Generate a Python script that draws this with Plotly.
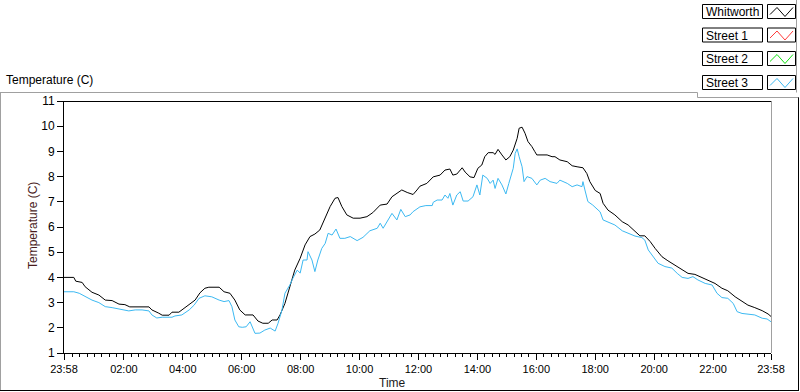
import plotly.graph_objects as go

# ---------------- data ----------------
# minutes elapsed since 23:58 (start of record) and temperature in deg C
whitworth_min = [0, 20, 24, 37, 43, 57, 71, 84, 98, 112, 124, 134, 173, 179, 193, 200, 214, 220, 234, 240,
                 255, 267, 277, 287, 295, 316, 326, 338, 348, 358, 369, 385, 395, 405, 416, 424, 434, 440,
                 450, 460, 470, 481, 491, 501, 511, 521, 532, 542, 552, 558, 566, 576, 589, 603, 617, 629,
                 644, 658, 668, 678, 688, 699, 711, 719, 725, 739, 752, 766, 776, 786, 792, 800, 811, 817,
                 827, 835, 843, 851, 857, 864, 874, 878, 884, 892, 900, 908, 915, 923, 927, 933, 939, 945,
                 953, 959, 963, 984, 994, 1000, 1010, 1025, 1035, 1045, 1057, 1065, 1071, 1082, 1092, 1098,
                 1108, 1122, 1137, 1149, 1163, 1173, 1183, 1194, 1204, 1218, 1230, 1244, 1259, 1271, 1285,
                 1299, 1312, 1326, 1340, 1352, 1367, 1381, 1393, 1407, 1422, 1434, 1440]
whitworth_temp = [4.00, 4.00, 3.85, 3.80, 3.63, 3.41, 3.30, 3.10, 3.08, 2.94, 2.92, 2.83, 2.83, 2.71, 2.58,
                  2.50, 2.50, 2.62, 2.62, 2.71, 2.90, 3.10, 3.39, 3.57, 3.61, 3.61, 3.43, 3.37, 3.10, 2.71,
                  2.51, 2.51, 2.27, 2.18, 2.18, 2.31, 2.31, 2.51, 2.97, 3.63, 4.29, 4.76, 5.29, 5.62, 5.72,
                  5.88, 6.35, 6.81, 7.14, 7.17, 6.81, 6.48, 6.35, 6.35, 6.41, 6.57, 6.87, 6.91, 7.20, 7.33,
                  7.47, 7.37, 7.29, 7.47, 7.62, 7.73, 7.99, 8.06, 8.26, 8.30, 8.06, 8.10, 8.35, 8.18, 7.99,
                  7.96, 8.33, 8.46, 8.79, 8.95, 8.95, 8.88, 9.08, 8.86, 8.66, 8.79, 9.05, 9.52, 9.92, 9.96,
                  9.72, 9.39, 9.19, 8.99, 8.86, 8.86, 8.79, 8.79, 8.66, 8.59, 8.43, 8.39, 8.35, 8.12, 7.80,
                  7.45, 7.33, 6.94, 6.67, 6.48, 6.21, 6.08, 5.81, 5.65, 5.65, 5.42, 5.15, 4.82, 4.66, 4.49,
                  4.32, 4.16, 4.12, 4.00, 3.90, 3.76, 3.57, 3.47, 3.23, 3.04, 2.90, 2.80, 2.68, 2.55, 2.45]

street3_min = [0, 20, 31, 43, 57, 71, 84, 98, 114, 132, 145, 159, 173, 179, 189, 200, 220, 226, 240, 255,
               265, 275, 287, 301, 316, 326, 336, 342, 348, 356, 363, 371, 379, 389, 399, 409, 420, 430,
               436, 444, 450, 460, 466, 475, 481, 487, 495, 497, 505, 511, 517, 525, 532, 538, 546, 554,
               562, 572, 583, 597, 609, 623, 638, 644, 650, 660, 668, 678, 686, 695, 705, 711, 719, 725,
               737, 750, 752, 760, 770, 776, 782, 786, 792, 800, 807, 813, 823, 833, 841, 847, 853, 862,
               868, 874, 878, 884, 892, 900, 906, 915, 919, 923, 927, 933, 937, 943, 953, 963, 970, 980,
               990, 1004, 1010, 1025, 1035, 1045, 1055, 1057, 1061, 1067, 1077, 1092, 1098, 1108, 1122,
               1137, 1149, 1163, 1177, 1183, 1190, 1200, 1210, 1224, 1238, 1249, 1259, 1271, 1281, 1291,
               1306, 1320, 1330, 1340, 1352, 1363, 1371, 1381, 1393, 1407, 1422, 1432, 1440]
street3_temp = [3.43, 3.43, 3.37, 3.23, 3.10, 3.00, 2.84, 2.80, 2.75, 2.67, 2.71, 2.71, 2.67, 2.51, 2.39,
                2.42, 2.42, 2.47, 2.51, 2.71, 2.90, 3.17, 3.27, 3.23, 3.10, 3.04, 3.08, 2.84, 2.31, 2.04,
                2.02, 2.04, 2.24, 1.78, 1.79, 1.91, 1.99, 1.87, 2.18, 2.71, 3.37, 3.70, 3.96, 4.29, 4.17,
                4.69, 4.69, 5.02, 4.69, 4.23, 4.69, 5.15, 5.35, 5.75, 5.68, 5.92, 5.55, 5.55, 5.62, 5.46,
                5.59, 5.85, 5.95, 6.15, 5.95, 6.25, 6.54, 6.28, 6.70, 6.41, 6.48, 6.61, 6.74, 6.80, 6.85,
                6.85, 6.98, 7.07, 7.07, 7.27, 7.14, 7.33, 6.87, 7.27, 7.40, 7.03, 7.03, 7.20, 7.67, 7.27,
                8.06, 7.93, 7.73, 7.86, 7.53, 7.93, 7.67, 7.31, 7.73, 8.33, 8.92, 9.10, 8.79, 8.39, 7.80,
                8.00, 7.93, 7.67, 7.86, 7.93, 7.80, 7.73, 7.86, 7.73, 7.60, 7.67, 7.60, 7.80, 7.47, 7.01,
                6.87, 6.60, 6.28, 6.19, 6.08, 5.85, 5.75, 5.64, 5.58, 5.48, 5.09, 4.82, 4.56, 4.43, 4.37,
                4.16, 4.00, 3.96, 4.03, 3.90, 3.76, 3.70, 3.37, 3.20, 3.17, 2.97, 2.64, 2.57, 2.55, 2.51,
                2.38, 2.35, 2.24]

series_names = ["Whitworth", "Street 1", "Street 2", "Street 3"]
series_colors = ["#000000", "#ff3c3c", "#10e010", "#3cb9f2"]

x_tick_labels = ["23:58", "02:00", "04:00", "06:00", "08:00", "10:00", "12:00",
                 "14:00", "16:00", "18:00", "20:00", "22:00", "23:58"]
y_tick_vals = [1, 2, 3, 4, 5, 6, 7, 8, 9, 10, 11]

# ---------------- geometry helpers ----------------
W, H = 800, 392
ML, MR, MT, MB = 64, 29, 101, 39
PW = W - ML - MR
PH = H - MT - MB


def px(x):
    return (x - ML) / PW


def py(y):
    return (H - MB - y) / PH


START = 23 * 60 + 58


def to_offset(lbl, last=False):
    h, m = lbl.split(":")
    off = (int(h) * 60 + int(m) - START) % 1440
    return 1440 if (last and off == 0) else off


x_tick_vals = [to_offset(l, i == len(x_tick_labels) - 1) for i, l in enumerate(x_tick_labels)]
minor_vals = [v for v in range(2, 1441, 15) if v not in x_tick_vals]

FONT = "Liberation Sans"

fig = go.Figure()
fig.add_trace(go.Scatter(x=whitworth_min, y=whitworth_temp, mode="lines", name=series_names[0],
                         line=dict(color=series_colors[0], width=1)))
fig.add_trace(go.Scatter(x=street3_min, y=street3_temp, mode="lines", name=series_names[3],
                         line=dict(color=series_colors[3], width=1)))

shapes = []
GREY = "#a0a0a0"


def seg(x0, y0, x1, y1, color, w=1):
    shapes.append(dict(type="line", xref="paper", yref="paper", x0=px(x0), y0=py(y0),
                       x1=px(x1), y1=py(y1), line=dict(color=color, width=w), layer="above"))


# plot frame (top black, right grey)
seg(63.5, 101.5, 771.5, 101.5, "#000000")
seg(771.5, 101.5, 771.5, 353, GREY)
# outer panel frame
seg(0, 92.5, 697.5, 92.5, GREY)
seg(697.5, 92.5, 697.5, 97.5, GREY)
seg(697.5, 97.5, 799, 97.5, GREY)
seg(0.5, 92.5, 0.5, 390.5, GREY)
seg(0, 390.5, 799, 390.5, "#000000")
seg(798.5, 97.5, 798.5, 390.5, "#000000")
# legend panel right edge
seg(796.5, 0, 796.5, 92.5, GREY)

annotations = []
row_tops = [4, 27.5, 51, 75]
for name, color, top in zip(series_names, series_colors, row_tops):
    t = top + 0.5
    shapes.append(dict(type="rect", xref="paper", yref="paper", x0=px(702.5), x1=px(762.5),
                       y0=py(t), y1=py(t + 14), line=dict(color="#000000", width=1),
                       fillcolor="white", layer="above"))
    shapes.append(dict(type="rect", xref="paper", yref="paper", x0=px(767.5), x1=px(795.5),
                       y0=py(t), y1=py(t + 14), line=dict(color="#000000", width=1),
                       fillcolor="white", layer="above"))
    pts = [(770, t + 10), (777, t + 3), (785, t + 12), (793, t + 3)]
    path = "M " + " L ".join(f"{px(a):.5f},{py(b):.5f}" for a, b in pts)
    shapes.append(dict(type="path", xref="paper", yref="paper", path=path,
                       line=dict(color=color, width=1), layer="above"))
    annotations.append(dict(text=name, xref="paper", yref="paper", x=px(704), y=py(t + 7.5),
                            xanchor="left", yanchor="middle", showarrow=False,
                            font=dict(family=FONT, size=12, color="#000000")))

annotations.append(dict(text="Temperature (C)", xref="paper", yref="paper", x=px(4), y=py(80),
                        xanchor="left", yanchor="middle", showarrow=False,
                        font=dict(family=FONT, size=12, color="#000000")))
annotations.append(dict(text="Temperature (C)", xref="paper", yref="paper", x=px(33), y=py(226),
                        xanchor="center", yanchor="middle", textangle=-90, showarrow=False,
                        font=dict(family=FONT, size=12, color="#4a1c1c")))
annotations.append(dict(text="Time", xref="paper", yref="paper", x=px(392), y=py(383),
                        xanchor="center", yanchor="middle", showarrow=False,
                        font=dict(family=FONT, size=12, color="#1a1a1a")))

fig.update_layout(
    width=W, height=H,
    margin=dict(l=ML, r=MR, t=MT, b=MB, pad=0),
    paper_bgcolor="white", plot_bgcolor="white",
    showlegend=False,
    shapes=shapes, annotations=annotations,
    xaxis=dict(range=[0, 1440], tickmode="array", tickvals=x_tick_vals, ticktext=x_tick_labels,
               ticks="outside", ticklen=6, tickcolor="#000000", tickwidth=1,
               showline=True, linecolor="#000000", linewidth=1, showgrid=False, zeroline=False,
               tickfont=dict(family=FONT, size=11, color="#000000"),
               minor=dict(tickmode="array", tickvals=minor_vals, ticks="outside", ticklen=3,
                          tickcolor="#000000", showgrid=False)),
    yaxis=dict(range=[1, 11], tickmode="array", tickvals=y_tick_vals,
               ticks="outside", ticklen=6, tickcolor="#000000", tickwidth=1,
               showline=True, linecolor="#000000", linewidth=1, showgrid=False, zeroline=False,
               tickfont=dict(family=FONT, size=12, color="#000000")),
)

fig.write_html("out.html", config={"displayModeBar": False},
               post_script="document.body.style.margin='0';document.body.style.overflow='hidden';")
